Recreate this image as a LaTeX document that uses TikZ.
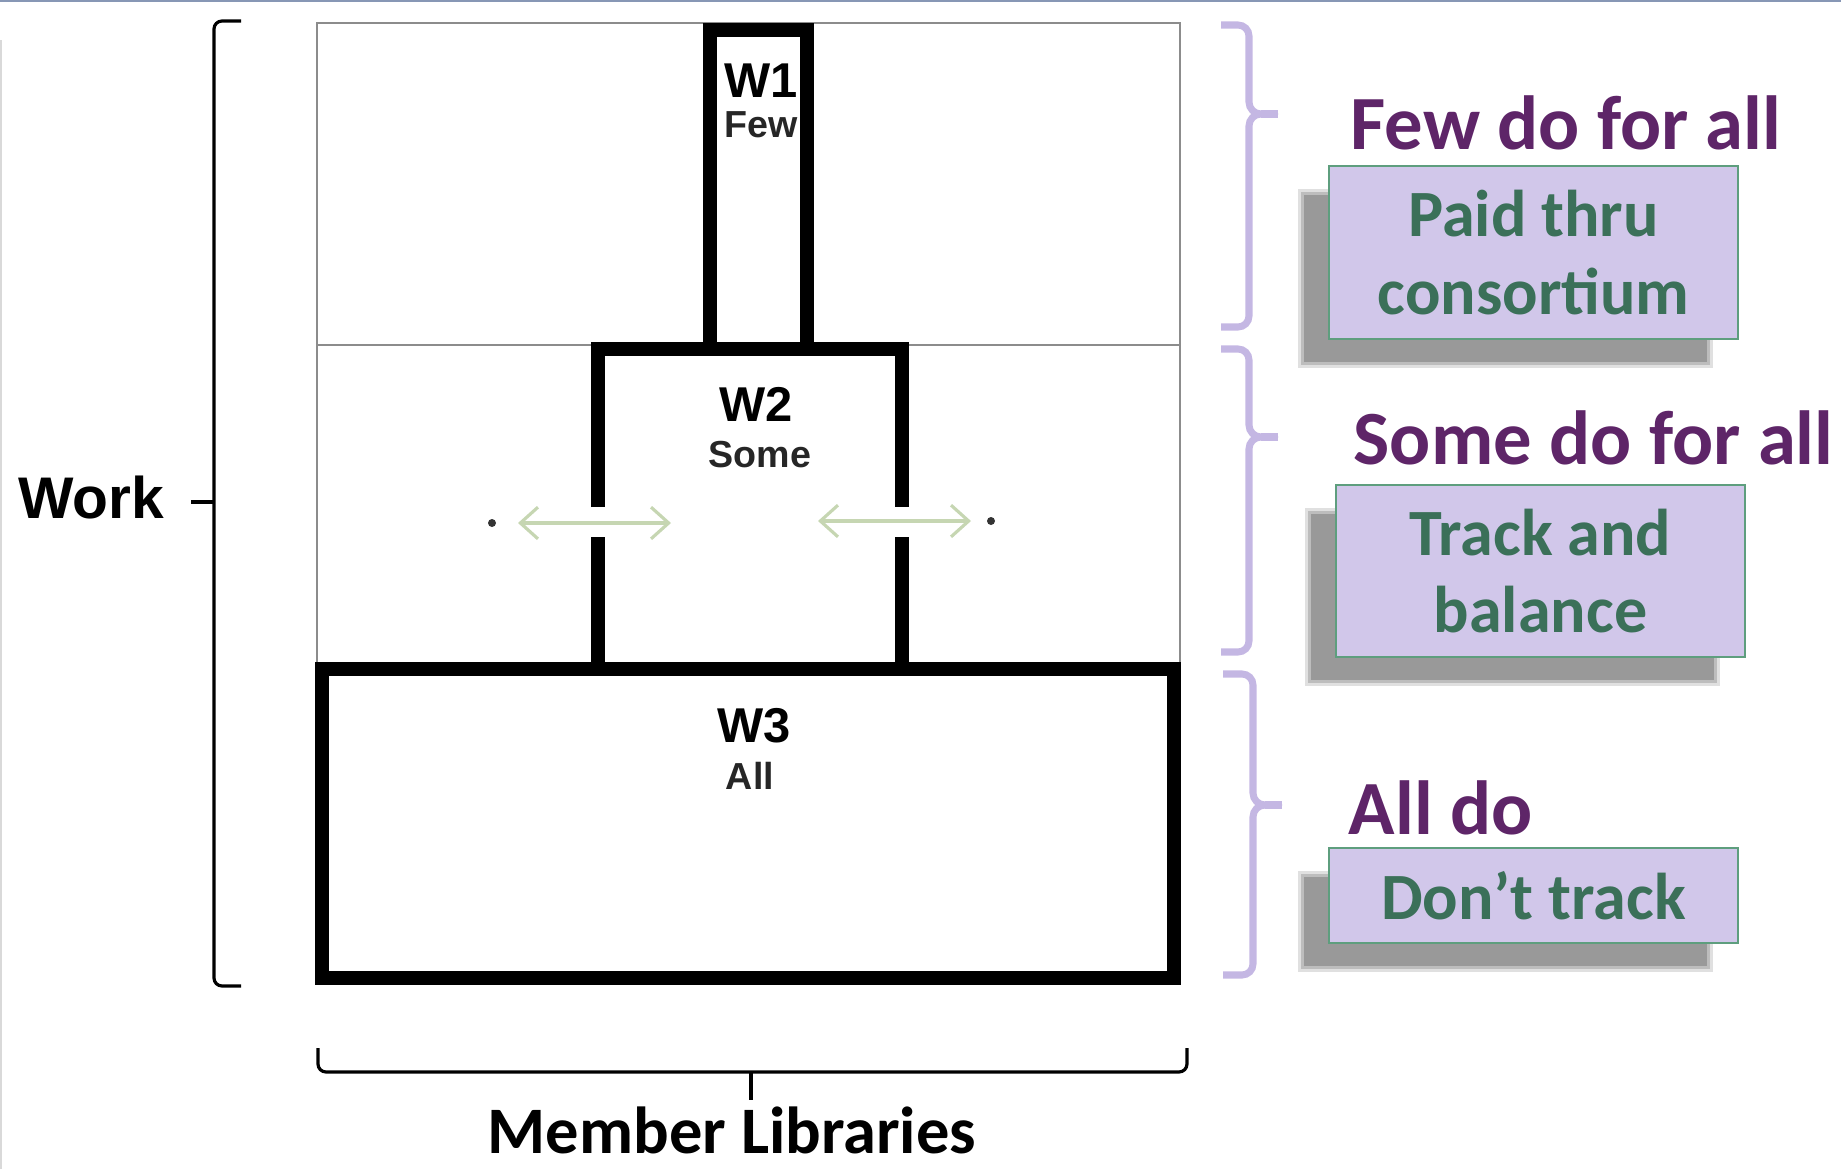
\documentclass[tikz,border=0pt]{standalone}
\usepackage{fontspec}
\setmainfont{Liberation Sans}
\newfontfamily\calibri{Carlito}
\usetikzlibrary{arrows.meta}

\definecolor{hdrpurple}{HTML}{5E2568}
\definecolor{boxfill}{HTML}{D1C7EA}
\definecolor{boxedge}{HTML}{5E9E7E}
\definecolor{boxtext}{HTML}{3B7059}
\definecolor{bracelav}{HTML}{C4B7E3}
\definecolor{shadowgray}{HTML}{999999}
\definecolor{arrowgreen}{HTML}{C6D6B2}
\definecolor{topline}{HTML}{8797B5}

% soft drop shadow, offset down and to the left of a box
\newcommand\softshadow[4]{%
  \fill[shadowgray, opacity=0.3] (#1-31,#2+23) rectangle (#3-25,#4+29);
  \fill[shadowgray, opacity=0.5] (#1-28,#2+26) rectangle (#3-28,#4+26);
  \fill[shadowgray] (#1-25,#2+29) rectangle (#3-31,#4+23);
}

\tikzset{
  frame/.style={draw=black!45, line width=0.6pt},
  wall/.style={draw=black, line width=3.8pt, line join=miter},
  brk/.style={draw=black, line width=0.9pt},
  lavbrace/.style={draw=bracelav, line width=2pt},
  dblarrow/.style={draw=arrowgreen, line width=0.9pt,
    {Straight Barb[length=5pt,width=9pt]}-{Straight Barb[length=5pt,width=9pt]}},
  wlabel/.style={font=\bfseries\fontsize{13.9pt}{16pt}\selectfont, inner sep=0, anchor=base},
  wsub/.style={font=\bfseries\fontsize{10.7pt}{13pt}\selectfont, text=black!85, inner sep=0, anchor=base},
  header/.style={font=\calibri\bfseries\fontsize{21.8pt}{26pt}\selectfont, text=hdrpurple,
    inner sep=0, anchor=base west},
  notebox/.style={draw=boxedge, fill=boxfill, line width=0.6pt, minimum width=4.09cm,
    align=center, text=boxtext, inner sep=0,
    font=\calibri\bfseries\fontsize{18.8pt}{22pt}\selectfont},
  axislabel/.style={inner sep=0, anchor=base}
}

\begin{document}
\begin{tikzpicture}[x=0.01cm, y=-0.01cm]
\useasboundingbox (0,0) rectangle (1841,1169);

% page edges
\draw[topline, line width=0.7pt] (0,1) -- (1841,1);
\draw[black!15, line width=0.5pt] (1,40) -- (1,1169);

% thin outer frame of the work area
\draw[frame] (317,666) -- (317,23) -- (1180,23) -- (1180,666);
\draw[frame] (317,345) -- (1180,345);

% W1 column
\draw[wall] (710,350) -- (710,30) -- (807,30) -- (807,350);
% W2 block, its sides open where the arrows pass
\draw[wall] (598,669) -- (598,537);
\draw[wall] (598,507) -- (598,349) -- (902,349) -- (902,507);
\draw[wall] (902,537) -- (902,669);
% W3 block
\draw[wall] (322,669) rectangle (1174,978);

% labels inside the blocks
\node[wlabel] (w1) at (761,97) {W1};
\node[wsub]   (few) at (761,137) {Few};
\node[wlabel] (w2) at (756,421) {W2};
\node[wsub]   (some) at (760,467) {Some};
\node[wlabel] (w3) at (754,742) {W3};
\node[wsub]   (all) at (750,789) {All};

% two-way arrows across the W2 sides
\coordinate (la) at (518,523);
\coordinate (lb) at (671,523);
\coordinate (ra) at (818,521);
\coordinate (rb) at (971,521);
\draw[dblarrow] (la) -- (lb);
\draw[dblarrow] (ra) -- (rb);
\fill[black!80] (492,523) circle (0.04cm);
\fill[black!80] (991,521) circle (0.04cm);

% Work bracket on the left
\draw[brk] (241,21) -- (222,21) to[out=180,in=90] (214,29) -- (214,978)
  to[out=-90,in=180] (222,986) -- (241,986);
\coordinate (worktick) at (214,502);
\coordinate (worktickend) at (191,502);
\draw[brk] (worktickend) -- (worktick);
\node[font=\bfseries\fontsize{16.7pt}{20pt}\selectfont, inner sep=0, anchor=base] (work) at (91,518) {Work};

% Member Libraries bracket below
\draw[brk] (318,1048) -- (318,1064) to[out=-90,in=180] (326,1072) -- (1179,1072)
  to[out=0,in=-90] (1187,1064) -- (1187,1048);
\coordinate (libtick) at (751,1072);
\coordinate (libtickend) at (751,1100);
\draw[brk] (libtick) -- (libtickend);
\node[axislabel, font=\calibri\bfseries\fontsize{18.9pt}{22pt}\selectfont] (libs) at (732,1153) {Member Libraries};

% lavender braces on the right
\draw[lavbrace] (1221,25) -- (1238,25) to[out=0,in=90] (1249,36) -- (1249,102)
  to[out=-90,in=180] (1261,114) to[out=180,in=90] (1249,126) -- (1249,316)
  to[out=-90,in=0] (1238,327) -- (1221,327);
\draw[lavbrace] (1261,114) -- (1278,114);

\draw[lavbrace] (1221,349) -- (1238,349) to[out=0,in=90] (1249,360) -- (1249,425)
  to[out=-90,in=180] (1261,437) to[out=180,in=90] (1249,449) -- (1249,641)
  to[out=-90,in=0] (1238,652) -- (1221,652);
\draw[lavbrace] (1261,437) -- (1278,437);

\draw[lavbrace] (1223,674) -- (1242,674) to[out=0,in=90] (1253,685) -- (1253,793)
  to[out=-90,in=180] (1265,805) to[out=180,in=90] (1253,817) -- (1253,964)
  to[out=-90,in=0] (1242,975) -- (1223,975);
\draw[lavbrace] (1265,805) -- (1282,805);

% headers
\node[header] (h1) at (1350,149) {Few do for all};
\node[header] (h2) at (1353,464) {Some do for all};
\node[header] (h3) at (1348,834) {All do};

% note boxes with shadows
\softshadow{1329}{166}{1738}{339}
\node[notebox, minimum height=1.73cm] (b1) at (1533.5,252.5) {Paid thru\\consortium};
\softshadow{1336}{485}{1745}{657}
\node[notebox, minimum height=1.72cm] (b2) at (1540.5,571) {Track and\\balance};
\softshadow{1329}{848}{1738}{943}
\node[notebox, minimum height=0.95cm] (b3) at (1533.5,895.5) {Don’t track};

\end{tikzpicture}
\end{document}
